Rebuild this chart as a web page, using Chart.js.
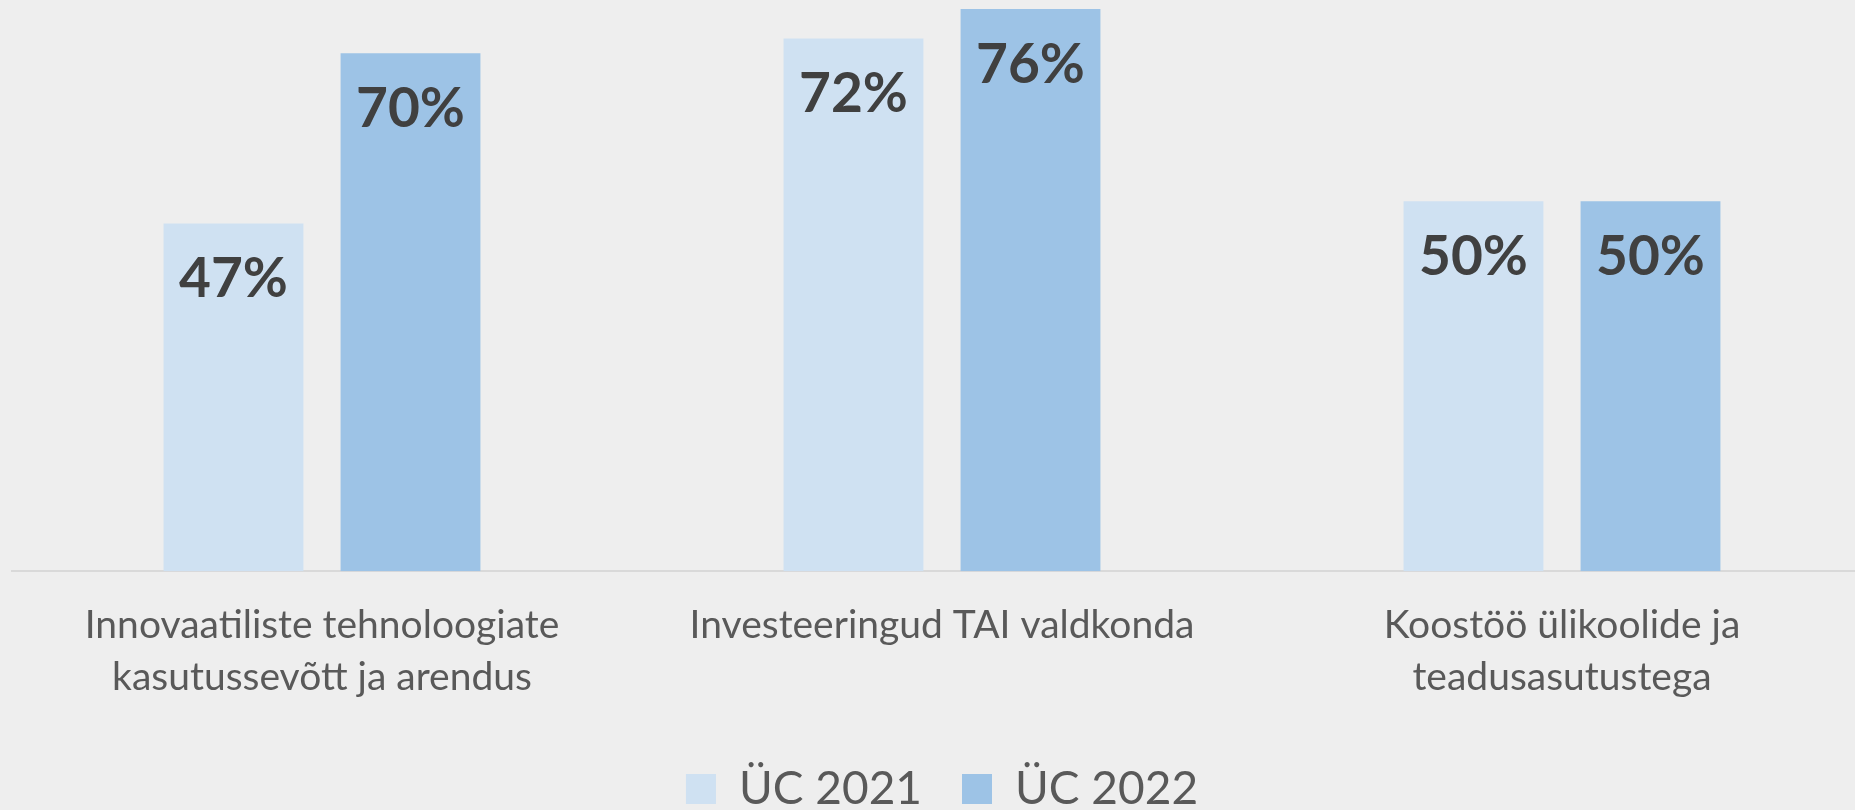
<!DOCTYPE html>
<html>
<head>
<meta charset="utf-8">
<script src="https://cdn.jsdelivr.net/npm/chart.js@4/dist/chart.umd.min.js"></script>
<style>
  html, body { margin: 0; padding: 0; background: #eeeeee; overflow: hidden; }
  #wrap { width: 1880px; height: 822px; }
</style>
</head>
<body>
<div id="wrap"><canvas id="myChart"></canvas></div>
<script>
// data
let categories = [
    ['Innovaatiliste tehnoloogiate', 'kasutussevõtt ja arendus'],
    ['Investeeringud TAI valdkonda'],
    ['Koostöö ülikoolide ja', 'teadusasutustega']
];
let seriesNames = ['ÜC 2021', 'ÜC 2022'];
let values2021 = [0.47, 0.72, 0.50];
let values2022 = [0.70, 0.76, 0.50];

let colors = ['#cfe1f2', '#9dc3e6'];

// percentage labels inside the top of each bar
let barLabels = {
    id: 'barLabels',
    afterDatasetsDraw: (chart)=>{
        let ctx = chart.ctx;
        ctx.save();
        ctx.font = 'bold 55px Lato';
        ctx.fillStyle = '#404040';
        ctx.textAlign = 'center';
        ctx.textBaseline = 'alphabetic';
        chart.data.datasets.forEach((ds, i)=>{
            let meta = chart.getDatasetMeta(i);
            meta.data.forEach((bar, j)=>{
                let txt = Math.round(ds.data[j] * 100) + '%';
                ctx.fillText(txt, bar.x, bar.y + 74);
            });
        });
        ctx.restore();
    }
};

new Chart('myChart', {
    type: 'bar',
    data: {
        labels: categories,
        datasets: [{
            label: seriesNames[0],
            data: values2021,
            backgroundColor: colors[0]
        }, {
            label: seriesNames[1],
            data: values2022,
            backgroundColor: colors[1]
        }]
    },
    options: {
        responsive: true,
        maintainAspectRatio: false,
        animation: false,
        categoryPercentage: 0.571,
        barPercentage: 0.79,
        layout: { padding: { left: 12, right: 8, top: 0, bottom: 0 } },
        scales: {
            x: {
                grid: { display: false, drawTicks: false },
                border: { display: true, color: '#d9d9d9', width: 2 },
                ticks: {
                    padding: 28,
                    color: '#595959',
                    font: { family: 'Lato', size: 39, lineHeight: 1.33 },
                    maxRotation: 0
                },
                afterFit: (scale)=>{ scale.height -= 5; }
            },
            y: {
                display: false,
                min: 0,
                max: 0.772
            }
        },
        plugins: {
            legend: {
                position: 'bottom',
                labels: {
                    boxWidth: 30,
                    boxHeight: 30,
                    padding: 40,
                    color: '#595959',
                    font: { family: 'Lato', size: 46 }
                }
            },
            tooltip: { enabled: false }
        }
    },
    plugins: [barLabels]
});
</script>
</body>
</html>
